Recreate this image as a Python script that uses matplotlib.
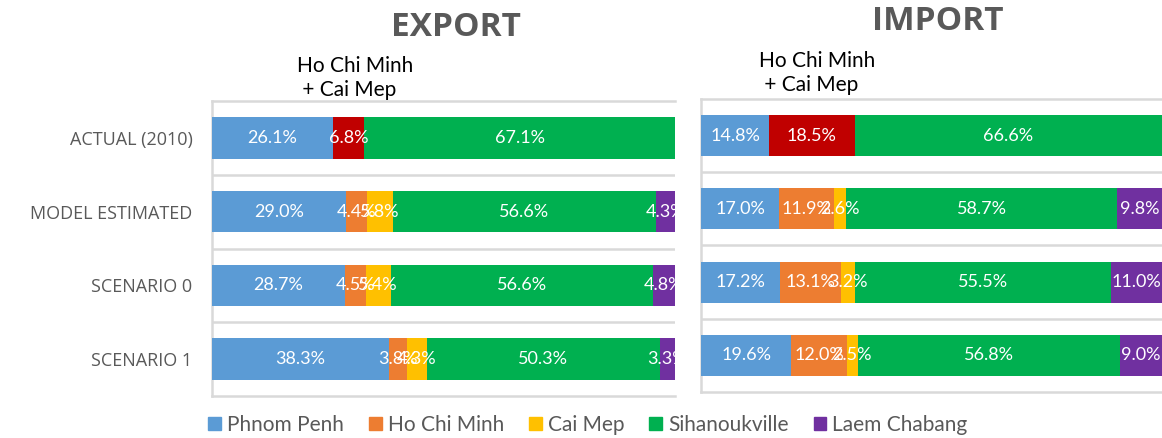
import matplotlib
matplotlib.use("Agg")
import matplotlib.pyplot as plt
from matplotlib.patches import Patch
import numpy as np

plt.rcParams['font.family'] = ['Lato', 'DejaVu Sans']

# categories and ports
categories = ["ACTUAL (2010)", "MODEL ESTIMATED", "SCENARIO 0", "SCENARIO 1"]
ports = ["Phnom Penh", "Ho Chi Minh", "Cai Mep", "Sihanoukville", "Laem Chabang"]

# export shares (%)
export_pp = [26.1, 29.0, 28.7, 38.3]
export_hcm_cm = [6.8, 0, 0, 0]       # Ho Chi Minh + Cai Mep (actual only)
export_hcm = [0, 4.4, 4.5, 3.8]
export_cm = [0, 5.8, 5.4, 4.3]
export_sih = [67.1, 56.6, 56.6, 50.3]
export_lc = [0, 4.3, 4.8, 3.3]

# import shares (%)
import_pp = [14.8, 17.0, 17.2, 19.6]
import_hcm_cm = [18.5, 0, 0, 0]
import_hcm = [0, 11.9, 13.1, 12.0]
import_cm = [0, 2.6, 3.2, 2.5]
import_sih = [66.6, 58.7, 55.5, 56.8]
import_lc = [0, 9.8, 11.0, 9.0]

colors = {"pp": "#5B9BD5", "hcm_cm": "#C00000", "hcm": "#ED7D31",
          "cm": "#FFC000", "sih": "#00B050", "lc": "#7030A0"}
grey = "#595959"
line_grey = "#D9D9D9"

W, H = 1162, 438
fig = plt.figure(figsize=(W / 100, H / 100), dpi=100)

ax1 = fig.add_axes([212 / W, 1 - 396 / H, 463 / W, 295 / H])
ax2 = fig.add_axes([701 / W, 1 - 392 / H, 461 / W, 293 / H])


def draw(ax, series, show_labels):
    y = np.arange(len(categories))
    left = np.zeros(len(categories))
    for key, vals in series:
        vals = np.array(vals)
        ax.barh(y, vals, left=left, height=0.56, color=colors[key],
                edgecolor='none', zorder=3)
        for yi, v, l in zip(y, vals, left):
            if v > 0:
                ax.text(l + v / 2, yi, f"{v:.1f}%", ha='center', va='center',
                        color='white', fontsize=13, zorder=4, clip_on=True)
        left += vals
    ax.set_xlim(0, 100)
    ax.set_ylim(3.5, -0.5)
    ax.set_xticks([])
    ax.set_yticks(y)
    if show_labels:
        ax.set_yticklabels(categories, fontsize=13, color=grey,
                           family=['Open Sans', 'DejaVu Sans'])
    else:
        ax.set_yticklabels([])
    ax.tick_params(axis='y', length=0, pad=14)
    for yl in [0.5, 1.5, 2.5]:
        ax.axhline(yl, color=line_grey, lw=1.8, zorder=1)
    for s in ['top', 'bottom', 'left']:
        ax.spines[s].set_color(line_grey)
        ax.spines[s].set_linewidth(1.8)
    ax.spines['right'].set_visible(False)


draw(ax1, [("pp", export_pp), ("hcm_cm", export_hcm_cm), ("hcm", export_hcm),
           ("cm", export_cm), ("sih", export_sih), ("lc", export_lc)], True)
draw(ax2, [("pp", import_pp), ("hcm_cm", import_hcm_cm), ("hcm", import_hcm),
           ("cm", import_cm), ("sih", import_sih), ("lc", import_lc)], False)

# titles
fig.text(456 / W, 1 - 27 / H, "EXPORT", ha='center', va='center', fontsize=24,
         fontweight='bold', color=grey, family=['Open Sans', 'DejaVu Sans'])
fig.text(938 / W, 1 - 22 / H, "IMPORT", ha='center', va='center', fontsize=24,
         fontweight='bold', color=grey, family=['Open Sans', 'DejaVu Sans'])

# combined port notes
fig.text(297 / W, 1 - 78 / H, "Ho Chi Minh\n + Cai Mep", ha='left', va='center',
         multialignment='left', fontsize=15, color='black', linespacing=1.3)
fig.text(759 / W, 1 - 73 / H, "Ho Chi Minh\n + Cai Mep", ha='left', va='center',
         multialignment='left', fontsize=15, color='black', linespacing=1.3)

# legend
handles = [Patch(color=colors[k]) for k in ["pp", "hcm", "cm", "sih", "lc"]]
leg = fig.legend(handles, ports, loc='center', bbox_to_anchor=(588 / W, 1 - 425 / H),
                 ncol=5, frameon=False, fontsize=15, handlelength=0.6,
                 handleheight=0.6, handletextpad=0.3, columnspacing=1.2)
for t in leg.get_texts():
    t.set_color(grey)

fig.savefig("out.png", dpi=100)
